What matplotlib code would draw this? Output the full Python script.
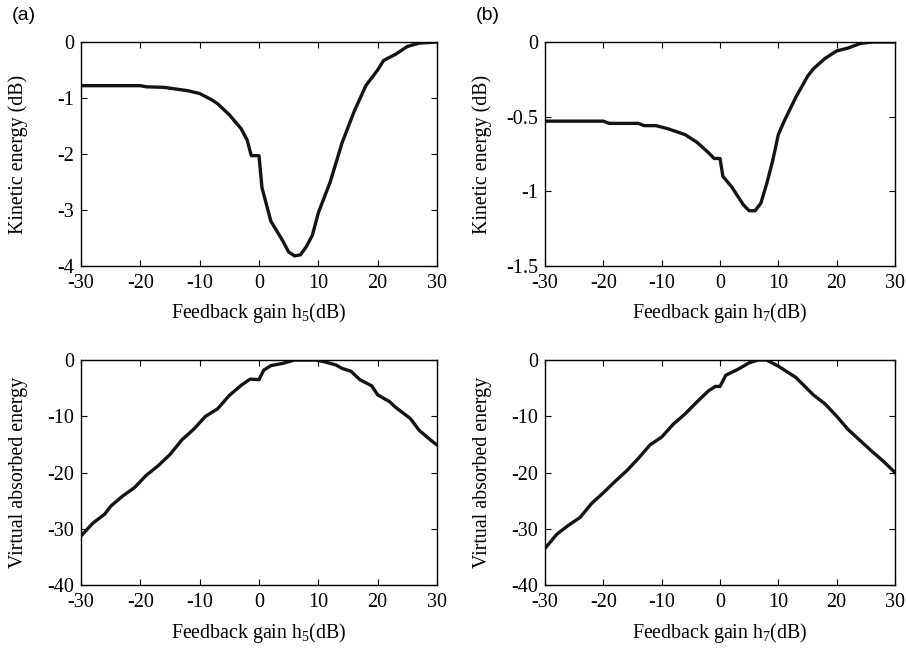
import numpy as np
import matplotlib
matplotlib.use('Agg')
from matplotlib import pyplot as plt

plt.rcParams['font.family'] = ['Liberation Serif', 'DejaVu Serif']
plt.rcParams['mathtext.fontset'] = 'custom'
plt.rcParams['mathtext.rm'] = 'Liberation Serif'
plt.rcParams['axes.unicode_minus'] = False

# (a) kinetic energy vs h5
ke5_x = [-30, -20, -19, -16, -14, -12, -10, -8, -7, -5, -3, -2, -1.3, 0, 0.5,
         2, 4, 5, 6, 7, 8, 9, 10, 12, 14, 16, 18, 20, 21, 23, 25, 27, 30]
ke5_y = [-0.78, -0.78, -0.8, -0.81, -0.84, -0.87, -0.92, -1.03, -1.1, -1.3, -1.55,
         -1.75, -2.03, -2.03, -2.6, -3.2, -3.55, -3.75, -3.82, -3.8, -3.65, -3.45,
         -3.05, -2.5, -1.8, -1.25, -0.78, -0.5, -0.33, -0.22, -0.08, -0.02, 0.0]

# (b) kinetic energy vs h7
ke7_x = [-30, -20, -19, -14, -13, -11, -9, -6, -4, -2, -1, 0, 0.5, 2, 3, 4, 5, 6,
         7, 8, 9, 10, 11, 13, 15, 16, 18, 20, 22, 24, 26, 30]
ke7_y = [-0.53, -0.53, -0.545, -0.545, -0.56, -0.56, -0.58, -0.62, -0.67, -0.74,
         -0.78, -0.78, -0.9, -0.97, -1.03, -1.09, -1.13, -1.13, -1.08, -0.95, -0.8,
         -0.62, -0.53, -0.37, -0.23, -0.18, -0.11, -0.06, -0.04, -0.01, 0.0, 0.0]

# virtual absorbed energy vs h5
va5_x = [-30, -28, -26, -25, -23, -21, -19, -17, -15, -13, -11, -9, -7, -5, -3,
         -1.5, 0, 0.8, 2, 4, 6, 9.5, 11, 13, 14, 15.5, 17, 19, 20, 21, 22, 23,
         25.5, 27, 29, 30]
va5_y = [-31.3, -29, -27.4, -26, -24.2, -22.7, -20.5, -18.8, -16.8, -14.2, -12.3,
         -10, -8.7, -6.3, -4.5, -3.4, -3.5, -1.8, -1.0, -0.6, 0, 0, -0.3, -0.9,
         -1.5, -2, -3.5, -4.6, -6.2, -6.8, -7.4, -8.4, -10.4, -12.5, -14.3, -15.1]

# virtual absorbed energy vs h7
va7_x = [-30, -28, -26, -24, -22, -20, -18, -16, -14, -12, -10, -8, -6, -4, -2,
         -0.8, 0, 1, 3, 5, 6.5, 8, 10, 13, 16, 18, 20, 22, 24, 26, 28, 30]
va7_y = [-33.5, -31, -29.4, -28, -25.5, -23.6, -21.6, -19.7, -17.5, -15.1, -13.7,
         -11.4, -9.6, -7.5, -5.5, -4.7, -4.7, -2.7, -1.7, -0.5, 0, 0, -1.1, -3.1,
         -6.2, -7.8, -10, -12.4, -14.3, -16.2, -18, -20]

W, H = 906, 649
fig = plt.figure(figsize=(W / 100, H / 100), dpi=100)


def make_ax(x0, x1, y0, y1):
    return fig.add_axes([x0 / W, 1 - y1 / H, (x1 - x0) / W, (y1 - y0) / H])


panels = [
    (make_ax(81, 437, 42, 266), ke5_x, ke5_y, (-4, 0), [-4, -3, -2, -1, 0],
     'Kinetic energy (dB)', '5'),
    (make_ax(545, 895, 42, 266), ke7_x, ke7_y, (-1.5, 0), [-1.5, -1, -0.5, 0],
     'Kinetic energy (dB)', '7'),
    (make_ax(81, 437, 360, 585), va5_x, va5_y, (-40, 0), [-40, -30, -20, -10, 0],
     'Virtual absorbed energy', '5'),
    (make_ax(545, 895, 360, 585), va7_x, va7_y, (-40, 0), [-40, -30, -20, -10, 0],
     'Virtual absorbed energy', '7'),
]

for ax, xs, ys, ylim, yticks, ylabel, sub in panels:
    ax.plot(xs, ys, color='#141414', lw=2.4)
    ax.set_xlim(-30, 30)
    ax.set_ylim(*ylim)
    ax.set_xticks([-30, -20, -10, 0, 10, 20, 30])
    ax.set_yticks(yticks)
    ax.set_yticklabels(['%g' % t for t in yticks])
    ax.tick_params(direction='in', top=True, right=True, labelsize=14.5,
                   length=4, width=0.8)
    ax.tick_params(axis='y', pad=5)
    ax.tick_params(axis='x', pad=6)
    for s in ax.spines.values():
        s.set_linewidth(1.0)
    ax.set_ylabel(ylabel, fontsize=14.3)
    ax.yaxis.set_label_coords(-0.15, 0.5)
    ax.set_xlabel(r'Feedback gain h$_{%s}$(dB)' % sub, fontsize=14.3)
    ax.xaxis.set_label_coords(0.5, -0.158)

fig.text(12 / W, 1 - 16 / H, '(a)', fontsize=14, family='Liberation Sans',
         va='center', ha='left')
fig.text(476 / W, 1 - 16 / H, '(b)', fontsize=14, family='Liberation Sans',
         va='center', ha='left')

fig.savefig('out.png', dpi=100)
